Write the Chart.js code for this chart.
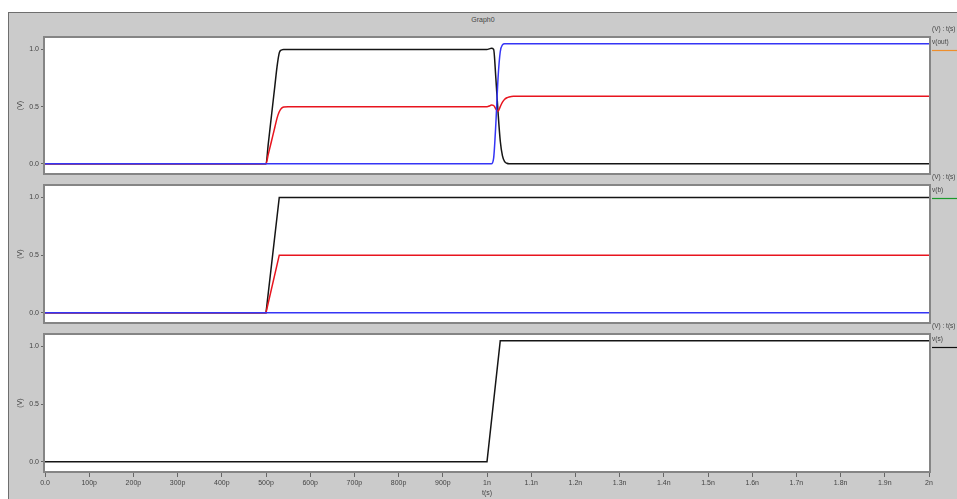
<!DOCTYPE html>
<html>
<head>
<meta charset="utf-8">
<script src="https://cdn.jsdelivr.net/npm/chart.js@4.4.1/dist/chart.umd.min.js"></script>
<style>
  html, body { margin: 0; padding: 0; background: #fff; width: 957px; height: 499px; overflow: hidden; }
  #frame { position: absolute; left: 8px; top: 12px; right: 0; bottom: 0; background: #cbcbcb;
           border-left: 1px solid #6e6e6e; border-top: 1px solid #6e6e6e; }
  #title { position: absolute; left: 0; width: 966px; top: 16px; text-align: center;
           font: 7px "Liberation Sans", Arial, sans-serif; color: #444; }
  canvas { position: absolute; left: 0; }
</style>
</head>
<body>
<div id="frame"></div>
<div id="title">Graph0</div>
<canvas id="c1" width="957" height="161" style="top:20px"></canvas>
<canvas id="c2" width="957" height="160" style="top:170px"></canvas>
<canvas id="c3" width="957" height="179" style="top:320px"></canvas>
<script>
// shared axes (time in picoseconds)
const xTicks = [0, 100, 200, 300, 400, 500, 600, 700, 800, 900, 1000,
                1100, 1200, 1300, 1400, 1500, 1600, 1700, 1800, 1900, 2000];
const yTicks = [0, 0.5, 1.0];

// top panel: output node traces
const tOut = [0, 500, 505, 510, 515, 520, 525, 530, 535, 540, 550, 1000, 1005, 1010,
              1015, 1020, 1025, 1030, 1035, 1040, 1045, 1050, 1060, 1080, 2000];
const outBlack = [0, 0, 0.17, 0.34, 0.51, 0.68, 0.85, 0.97, 0.995, 1.0, 1.0, 1.0, 1.005, 1.01,
                  1.0, 0.75, 0.45, 0.2, 0.07, 0.02, 0.005, 0, 0, 0, 0];
const outRed   = [0, 0, 0.08, 0.16, 0.24, 0.32, 0.40, 0.455, 0.485, 0.497, 0.5, 0.5, 0.505, 0.515,
                  0.51, 0.48, 0.46, 0.5, 0.54, 0.565, 0.578, 0.585, 0.59, 0.59, 0.59];
const outBlue  = [0, 0, 0, 0, 0, 0, 0, 0, 0, 0, 0, 0, 0, 0,
                  0.05, 0.35, 0.75, 0.98, 1.04, 1.05, 1.05, 1.05, 1.05, 1.05, 1.05];

// middle panel: input ramps
const tIn     = [0, 500, 530, 2000];
const inBlack = [0, 0, 1.0, 1.0];
const inRed   = [0, 0, 0.5, 0.5];
const inBlue  = [0, 0, 0, 0];

// bottom panel: v(s) step
const tS = [0, 1000, 1030, 2000];
const vS = [0, 0, 1.05, 1.05];

// right-hand legend entries, one per panel
const legendUnits  = '(V) : t(s)';
const legendNames  = ['v(out)', 'v(b)', 'v(s)'];
const legendColors = ['#ee8e2c', '#1c9a2c', '#111111'];

const FONT = '"Liberation Sans", Arial, sans-serif';
const TXT = '#444';
const traceColors = { black: '#151515', red: '#e8141e', blue: '#3535f5' };

function pts(xs, ys) { return xs.map((x, i) => ({ x: x, y: ys[i] })); }

function fmtTime(v) {
  if (v === 0) return '0.0';
  if (v < 1000) return v + 'p';
  return (v / 1000) + 'n';
}

// white plot area with grey frame, plus the per-panel legend at the right
const panelDeco = {
  id: 'panelDeco',
  beforeDatasetsDraw(chart) {
    const a = chart.chartArea, ctx = chart.ctx;
    ctx.save();
    ctx.fillStyle = '#ffffff';
    ctx.fillRect(a.left, a.top, a.right - a.left, a.bottom - a.top);
    ctx.strokeStyle = '#858585';
    ctx.lineWidth = 2;
    ctx.strokeRect(a.left - 1, a.top - 1, a.right - a.left + 2, a.bottom - a.top + 2);
    ctx.restore();
  },
  afterDraw(chart, args, opts) {
    const a = chart.chartArea, ctx = chart.ctx;
    ctx.save();
    ctx.font = '6.5px ' + FONT;
    ctx.fillStyle = TXT;
    ctx.textBaseline = 'middle';
    ctx.textAlign = 'left';
    ctx.fillText(legendUnits, a.right + 3, a.top - 9);
    ctx.fillText(legendNames[opts.idx], a.right + 3, a.top + 4);
    ctx.strokeStyle = legendColors[opts.idx];
    ctx.lineWidth = 1.2;
    ctx.beginPath();
    ctx.moveTo(a.right + 3, a.top + 12.5);
    ctx.lineTo(chart.width, a.top + 12.5);
    ctx.stroke();
    ctx.restore();
  }
};

function yScale() {
  return {
    type: 'linear', min: -0.08, max: 1.10,
    afterFit(s) { s.width = 45; },
    afterBuildTicks(s) { s.ticks = yTicks.map(v => ({ value: v })); },
    ticks: { callback: v => v.toFixed(1), font: { size: 7, family: FONT }, color: TXT, padding: 2 },
    grid: { drawOnChartArea: false, tickLength: 4, color: '#666' },
    border: { display: false },
    title: { display: true, text: '(V)', font: { size: 7, family: FONT }, color: TXT,
             padding: { top: 16, bottom: 0 } }
  };
}

function xScale(show) {
  return {
    type: 'linear', min: 0, max: 2000, display: show,
    afterFit(s) { s.height = show ? 28 : 0; },
    afterBuildTicks(s) { s.ticks = xTicks.map(v => ({ value: v })); },
    ticks: { callback: fmtTime, autoSkip: false, maxRotation: 0, font: { size: 7, family: FONT },
             color: TXT, padding: 2 },
    grid: { drawOnChartArea: false, tickLength: 6, color: '#666' },
    border: { display: true, color: '#777' },
    title: { display: true, text: 't(s)', font: { size: 7, family: FONT }, color: TXT,
             padding: { top: 0, bottom: 2 } }
  };
}

function trace(data, color, order, smooth) {
  return {
    data: data, borderColor: color, borderWidth: 1.5, pointRadius: 0, order: order,
    fill: false, cubicInterpolationMode: smooth ? 'monotone' : 'default', tension: 0
  };
}

function makeChart(id, idx, datasets, showX, padTop, padBottom) {
  return new Chart(document.getElementById(id), {
    type: 'line',
    data: { datasets: datasets },
    options: {
      responsive: false, animation: false, parsing: true,
      layout: { padding: { left: 0, right: 28, top: padTop, bottom: padBottom } },
      plugins: { legend: { display: false }, tooltip: { enabled: false }, panelDeco: { idx: idx } },
      scales: { x: xScale(showX), y: yScale() }
    },
    plugins: [panelDeco]
  });
}

makeChart('c1', 0, [
  trace(pts(tOut, outBlack), traceColors.black, 3, true),
  trace(pts(tOut, outRed), traceColors.red, 2, true),
  trace(pts(tOut, outBlue), traceColors.blue, 1, true)
], false, 18, 8);

makeChart('c2', 1, [
  trace(pts(tIn, inBlack), traceColors.black, 3, false),
  trace(pts(tIn, inRed), traceColors.red, 2, false),
  trace(pts(tIn, inBlue), traceColors.blue, 1, false)
], false, 16, 8);

makeChart('c3', 2, [
  trace(pts(tS, vS), traceColors.black, 1, false)
], true, 15, 0);
</script>
</body>
</html>
